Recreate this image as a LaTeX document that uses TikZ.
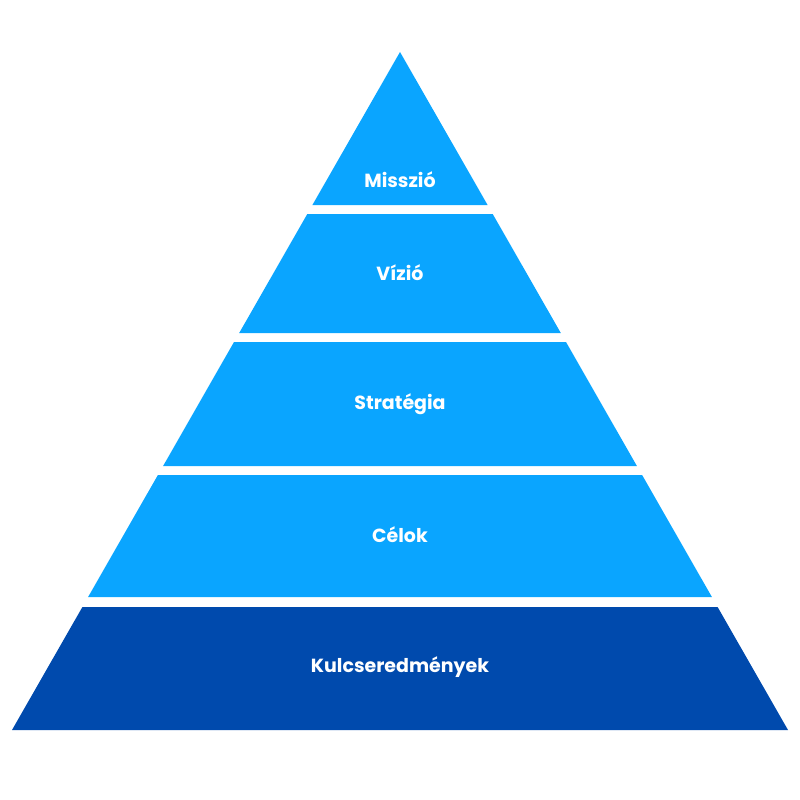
\documentclass[tikz,border=0pt]{standalone}
\usepackage{fontspec}
\setmainfont{Poppins}
\definecolor{lightb}{HTML}{0AA5FF}
\definecolor{darkb}{HTML}{004AAD}
\begin{document}
\begin{tikzpicture}[x=1pt,y=-1pt,
  lbl/.style={text=white,font=\fontsize{19}{22}\selectfont\bfseries,anchor=center}]
\useasboundingbox (0,0) rectangle (800,800);
\fill[lightb] (400,52) -- (487.6,205) -- (312.4,205) -- cycle;
\fill[lightb] (307.3,214) -- (492.7,214) -- (560.8,333) -- (239.2,333) -- cycle;
\fill[lightb] (234,342) -- (566,342) -- (636.9,466) -- (163.1,466) -- cycle;
\fill[lightb] (157.9,475) -- (642.1,475) -- (711.9,597) -- (88.1,597) -- cycle;
\fill[darkb] (82.4,607) -- (717.6,607) -- (788,730) -- (12,730) -- cycle;
\node[lbl] (m) at (400,180) {Misszió};
\node[lbl] (v) at (400,273) {Vízió};
\node[lbl] (s) at (400,404) {Stratégia};
\node[lbl] (c) at (400,535) {Célok};
\node[lbl] (k) at (400,667) {Kulcseredmények};
\end{tikzpicture}
\end{document}
